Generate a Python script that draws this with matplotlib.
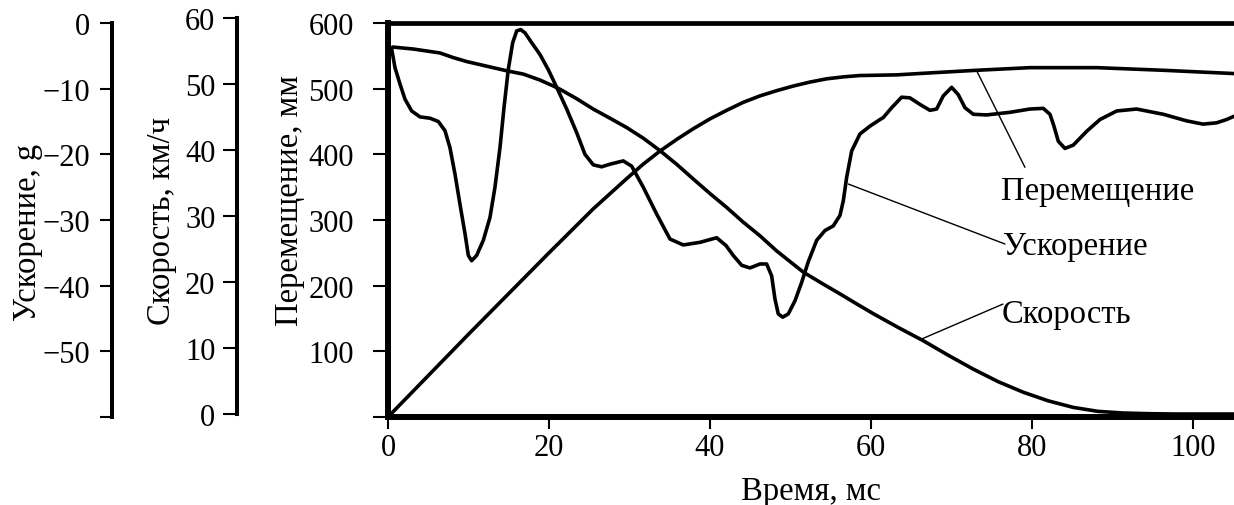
import matplotlib
matplotlib.use("Agg")
import matplotlib.pyplot as plt

plt.rcParams['font.family'] = ['Liberation Serif', 'DejaVu Serif']

# ---------------- data ----------------
# Displacement, mm
disp_t = [0.0, 5.0, 10.0, 15.0, 20.0, 21.4, 25.5, 29.65, 31.7, 33.79, 35.9, 37.93,
          40.0, 42.07, 44.1, 46.21, 48.3, 50.35, 52.4, 54.5, 56.6, 58.63, 63.19, 67.33,
          73.13, 79.75, 88.04, 96.31, 105.1]
disp_mm = [0, 63, 126, 188, 250, 267, 317, 363, 385, 405, 423, 439,
           454, 467, 479, 489, 497, 504, 510, 515, 518, 520, 521, 524,
           528, 532, 532, 528, 523]

# Velocity, km/h
vel_t = [0.58, 3.14, 6.46, 8.11, 9.78, 12.26, 14.75, 16.81, 18.88, 20.53, 21.37, 23.4,
         25.5, 27.6, 29.65, 31.7, 33.79, 35.9, 37.93, 40.0, 42.07, 44.1, 46.21, 48.29,
         51.59, 53.9, 56.15, 58.2, 60.29, 63.4, 66.5, 69.6, 72.71, 75.8, 78.92, 82.0,
         85.13, 88.2, 91.34, 94.4, 97.55, 105.1]
vel_kmh = [55.6, 55.3, 54.7, 54.0, 53.4, 52.7, 52.0, 51.5, 50.6, 49.7, 49.2, 47.8,
           46.2, 44.8, 43.4, 41.8, 39.9, 37.8, 35.6, 33.4, 31.3, 29.1, 27.0, 24.7,
           21.5, 19.8, 18.2, 16.7, 15.2, 13.1, 11.1, 8.9, 6.8, 4.9, 3.3, 2.0,
           1.0, 0.4, 0.15, 0.05, 0.0, 0.0]

# Acceleration, g
acc_t = [0.46, 0.87, 1.49, 2.11, 2.94, 3.98, 5.22, 6.25, 7.08, 7.70, 8.32, 8.94, 9.57,
         9.98, 10.39, 11.01, 11.84, 12.67, 13.29, 13.91, 14.41, 14.94, 15.49, 15.99,
         16.48, 17.02, 17.85, 18.88, 19.91, 20.96, 22.2, 23.44, 24.47, 25.5, 26.54,
         27.58, 29.23, 30.27, 31.71, 33.38, 35.03, 36.68, 38.76, 40.83, 42.0, 42.89,
         43.94, 44.97, 46.21, 47.04, 47.66, 48.07, 48.48, 49.03, 49.73, 50.56, 51.39,
         52.2, 53.25, 54.29, 55.32, 56.15, 56.56, 56.98, 57.6, 58.63, 59.88, 61.12,
         61.53, 62.57, 63.81, 64.84, 66.09, 67.33, 68.16, 68.98, 70.02, 70.84, 71.68,
         72.71, 74.37, 77.27, 79.75, 81.4, 82.24, 82.73, 83.27, 84.1, 85.13, 86.79,
         88.45, 90.52, 93.0, 96.31, 99.21, 101.25, 102.94, 104.18, 105.1]
acc_g = [-4.0, -6.8, -9.3, -11.6, -13.4, -14.3, -14.5, -15.0, -16.4, -19.0, -23.0,
         -27.6, -32.1, -35.4, -36.2, -35.4, -33.1, -29.6, -25.0, -19.0, -12.9, -7.1,
         -3.0, -1.2, -1.0, -1.5, -3.0, -4.8, -7.1, -9.8, -13.1, -16.7, -20.0, -21.6,
         -21.9, -21.5, -21.0, -21.8, -25.0, -29.1, -32.9, -33.8, -33.4, -32.7, -33.9,
         -35.4, -36.9, -37.3, -36.7, -36.7, -38.5, -42.0, -44.3, -44.8, -44.3, -42.3,
         -39.5, -36.4, -33.1, -31.6, -30.9, -29.3, -27.1, -23.5, -19.5, -16.9, -15.7,
         -14.7, -14.4, -12.9, -11.3, -11.4, -12.4, -13.3, -13.1, -11.1, -9.8, -10.9,
         -12.9, -13.9, -14.0, -13.6, -13.1, -13.0, -13.9, -15.7, -18.0, -19.1, -18.6,
         -16.5, -14.7, -13.4, -13.1, -13.9, -14.9, -15.4, -15.2, -14.7, -14.2]

x_ticks = [0, 20, 40, 60, 80, 100]
disp_ticks = [0, 100, 200, 300, 400, 500, 600]
disp_labels = ['', '100', '200', '300', '400', '500', '600']
vel_ticks = [0, 10, 20, 30, 40, 50, 60]
acc_ticks = [0, -10, -20, -30, -40, -50, -60]
acc_labels = ['0', '−10', '−20', '−30', '−40', '−50', '']

# ---------------- figure ----------------
W, H = 1234, 506
fig = plt.figure(figsize=(W / 100, H / 100), dpi=100)

def px_rect(x0, y_top, x1, y_bot):
    return [x0 / W, 1 - y_bot / H, (x1 - x0) / W, (y_bot - y_top) / H]

LW = 2.6
TICK_FS = 22
LAB_FS = 23.5
line_kw = dict(color='black', lw=LW, solid_capstyle='round', solid_joinstyle='round')

ax = fig.add_axes(px_rect(388, 24, 1234, 418))
ax.set_xlim(0, 105.1)
ax.set_ylim(0, 600)
ax.plot(disp_t, disp_mm, **line_kw)
ax.spines['right'].set_visible(False)
ax.spines['left'].set_linewidth(4.3)
ax.spines['bottom'].set_linewidth(4.3)
ax.spines['top'].set_linewidth(3.4)
ax.set_xticks(x_ticks)
ax.set_yticks(disp_ticks)
ax.set_yticklabels(disp_labels)
ax.tick_params(axis='x', direction='out', length=8.6, width=1.5, pad=3, labelsize=TICK_FS)
ax.tick_params(axis='y', direction='out', length=10.5, width=1.5, pad=14, labelsize=TICK_FS)
ax.set_xlabel('Время, мс', fontsize=LAB_FS)
ax.xaxis.set_label_coords(0.5, (418 - 492) / 394)
ax.xaxis.label.set_verticalalignment('center')
ax.set_ylabel('Перемещение, мм', fontsize=LAB_FS)
ax.yaxis.set_label_coords((290 - 388) / 846, (418 - 200) / 394)
ax.yaxis.label.set_verticalalignment('center')

# Acceleration axis (twin of main, same vertical extent)
acc = ax.twinx()
acc.set_ylim(-60, 0)
acc.plot(acc_t, acc_g, **line_kw)
for s in ['top', 'bottom', 'right']:
    acc.spines[s].set_visible(False)
acc.spines['left'].set_visible(True)
acc.spines['left'].set_position(('axes', (112 - 388) / 846))
acc.spines['left'].set_linewidth(2.9)
acc.yaxis.set_ticks_position('left')
acc.yaxis.set_label_position('left')
acc.set_yticks(acc_ticks)
acc.set_yticklabels(acc_labels)
acc.tick_params(axis='y', direction='out', length=8.6, width=1.5, pad=7, labelsize=TICK_FS)
acc.set_ylabel('Ускорение, g', fontsize=LAB_FS)
acc.yaxis.set_label_coords((28 - 388) / 846, (418 - 232) / 394)
acc.yaxis.label.set_verticalalignment('center')

# Velocity axis (slightly shifted up in the original)
vel = fig.add_axes(px_rect(388, 19, 1234, 415), sharex=ax)
vel.patch.set_visible(False)
vel.set_ylim(0, 60)
vel.plot(vel_t, vel_kmh, clip_on=False, **line_kw)
for s in ['top', 'bottom', 'right']:
    vel.spines[s].set_visible(False)
vel.spines['left'].set_position(('axes', (237 - 388) / 846))
vel.spines['left'].set_linewidth(2.9)
vel.set_yticks(vel_ticks)
vel.tick_params(axis='y', direction='out', length=10, width=1.5, pad=5.5, labelsize=TICK_FS)
vel.tick_params(axis='x', bottom=False, labelbottom=False)
vel.set_ylabel('Скорость, км/ч', fontsize=LAB_FS)
vel.yaxis.set_label_coords((162 - 388) / 846, (415 - 221) / 396)
vel.yaxis.label.set_verticalalignment('center')

# Annotations (in main displacement coordinates)
labels = [
    ('Перемещение', (73.13, 527.3), (79.13, 380.2), (76.2, 332)),
    ('Ускорение', (57.18, 354.8), (76.65, 263.4), (76.4, 248)),
    ('Скорость', (66.3, 118.8), (76.4, 172.0), (76.2, 144)),
]
for txt, p0, p1, tp in labels:
    ax.annotate('', xy=p0, xytext=p1,
                arrowprops=dict(arrowstyle='-', lw=1.0, color='black',
                                shrinkA=0, shrinkB=0))
    ax.text(tp[0], tp[1], txt, fontsize=LAB_FS, ha='left', va='baseline')

fig.savefig('out.png', dpi=100)
